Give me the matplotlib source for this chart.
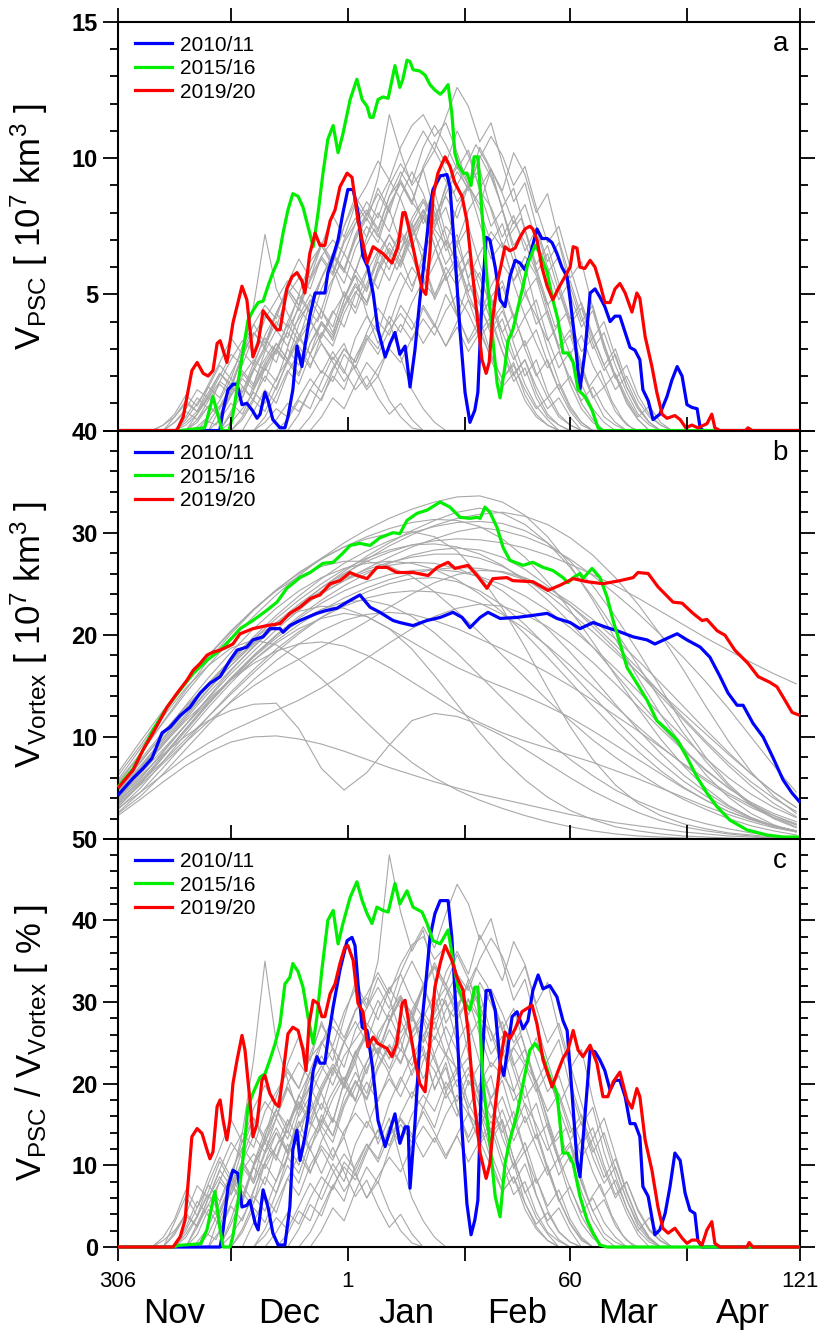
import numpy as np
import matplotlib
matplotlib.use("Agg")
import matplotlib.pyplot as plt
from matplotlib.lines import Line2D
import matplotlib.transforms as mtransforms

plt.rcParams["font.family"] = ["Liberation Sans", "DejaVu Sans"]
plt.rcParams["mathtext.fontset"] = "custom"
plt.rcParams["mathtext.rm"] = "Liberation Sans"
plt.rcParams["mathtext.it"] = "Liberation Sans:italic"
plt.rcParams["mathtext.bf"] = "Liberation Sans:bold"

# x axis is days since 1 Nov (0) up to 1 May (181)
tick_days = [0, 61, 120, 181]
tick_labels = ["306", "1", "60", "121"]
month_starts = [30, 92, 151]
months = ["Nov", "Dec", "Jan", "Feb", "Mar", "Apr"]
month_mid = [15, 45.5, 76.5, 106, 135.5, 166]

seasons = ["2010/11", "2015/16", "2019/20"]
colors = ["#0000ff", "#00ee00", "#ff0000"]

# ---- PSC volume (10^7 km^3), (day, value) pairs ----
psc_2010 = [(0, 0), (27, 0), (27.9, 0.75), (29.2, 1.5), (30.5, 1.7), (31.6, 1.7), (32.9, 0.95), (34.2, 1.0),
            (35.6, 0.75), (36.9, 0.45), (37.7, 0.6), (39, 1.4), (39.8, 1.1), (41.1, 0.4), (43, 0.1), (44.3, 0.1),
            (45.1, 0.5), (46.4, 1.5), (47.5, 3.1), (48.8, 2.35), (49.6, 3.1), (50.9, 4.2), (52.3, 5.05),
            (53.6, 5.05), (54.9, 5.05), (55.7, 5.8), (57.1, 6.4), (58.4, 7.0), (59.7, 8.0), (61, 8.85),
            (62.4, 8.85), (63.7, 8.0), (65, 6.4), (66.3, 6.0), (67.7, 5.05), (69, 3.7), (70.9, 2.7), (72.2, 3.2),
            (73.5, 3.6), (74.8, 2.8), (76.2, 3.1), (77.5, 1.6), (78.8, 2.95), (80.1, 4.8), (81.5, 6.5),
            (82.8, 8.2), (83.6, 8.85), (85.5, 9.35), (87.3, 9.4), (88.1, 8.95), (89.4, 6.5), (90.8, 3.6),
            (92.1, 1.4), (93.4, 0.3), (94.7, 0.75), (95.5, 1.4), (96.6, 4.8), (97.7, 7.1), (98.7, 7.0),
            (100.1, 6.0), (101.4, 4.8), (102.7, 4.55), (104, 5.65), (105.4, 6.25), (106.7, 6.15), (108, 5.9),
            (109.3, 6.4), (111.2, 7.4), (112.5, 7.05), (113.9, 7.05), (115.2, 6.9), (116.5, 6.5), (117.8, 6.0),
            (119.2, 5.65), (120, 4.8), (121.3, 3.3), (122.6, 1.5), (123.9, 2.85), (125.3, 5.05), (126.6, 5.2),
            (127.9, 4.9), (129.2, 4.55), (130.6, 4.0), (131.9, 4.2), (133.2, 4.2), (134.6, 3.6), (135.9, 3.05),
            (137.2, 2.95), (138.5, 2.6), (139.3, 1.5), (140.7, 1.1), (142, 0.4), (143.8, 0.6), (145.7, 1.25),
            (147, 1.85), (148.4, 2.35), (149.7, 2.0), (151, 0.95), (152.3, 0.85), (153.7, 0.8), (154.5, 0.1),
            (155.3, 0), (181, 0)]
psc_2015 = [(0, 0), (16.5, 0), (23, 0.1), (25.2, 1.25), (27.6, 0), (29.5, 0), (30.5, 0.6), (31.8, 1.7),
            (33.2, 2.95), (34.5, 4.05), (35.8, 4.4), (37.2, 4.7), (38.5, 4.75), (39.8, 5.3), (41.1, 5.8),
            (42.5, 6.25), (43.8, 7.25), (45.1, 8.1), (46.4, 8.7), (47.8, 8.6), (49.1, 8.2), (50.4, 7.5),
            (51.8, 6.75), (53.1, 8.0), (54.4, 9.45), (55.7, 10.7), (57.1, 11.2), (58.4, 10.2), (59.7, 10.9),
            (61.6, 12.15), (63.4, 12.9), (64.8, 12.15), (66.1, 11.9), (66.9, 11.5), (67.7, 11.5), (69, 12.15),
            (70.3, 12.25), (71.7, 12.2), (73.5, 13.4), (74.8, 12.6), (75.6, 12.9), (76.7, 13.6), (77.5, 13.55),
            (78.3, 13.25), (80.1, 13.2), (81.5, 13.05), (82.8, 12.7), (84.1, 12.5), (85.5, 12.35), (86.3, 12.45),
            (87.6, 12.7), (88.6, 11.65), (89.4, 10.2), (90.2, 9.8), (91.6, 9.45), (92.6, 9.45), (93.7, 9.0),
            (94.5, 10.05), (95.5, 10.05), (96.6, 8.0), (97.9, 5.65), (99.3, 3.6), (100.6, 1.75), (101.4, 1.2),
            (102.7, 2.35), (103.5, 3.3), (104.8, 3.7), (106.2, 4.55), (107.5, 5.3), (108.8, 6.15), (110.7, 6.8),
            (112, 6.5), (113.9, 5.8), (115.4, 4.8), (116.8, 4.05), (118.1, 2.85), (119.4, 2.85), (120.8, 2.5),
            (122.1, 1.5), (123.9, 1.25), (125.8, 0.75), (127.4, 0.1), (128.7, 0), (181, 0)]
psc_2019 = [(0, 0), (15.6, 0), (17.3, 0.5), (19.6, 2.2), (21, 2.5), (22.6, 2.1), (23.9, 2.0), (25.2, 2.2),
            (26.3, 3.2), (27.1, 3.3), (28.9, 2.5), (30.5, 3.95), (32.9, 5.3), (34.2, 4.8), (35.8, 2.7),
            (37.2, 3.2), (38.5, 4.4), (40.3, 4.06), (42.2, 3.7), (43, 3.7), (44.8, 5.2), (46.2, 5.65),
            (47.5, 5.8), (48.8, 5.5), (49.6, 5.05), (50.9, 6.5), (52.3, 7.25), (53.6, 6.8), (54.9, 6.8),
            (56.3, 7.7), (57.6, 8.1), (58.9, 8.95), (60.8, 9.45), (62.1, 9.3), (63.7, 7.7), (66.1, 6.15),
            (67.7, 6.75), (70.3, 6.5), (72.7, 6.15), (74.3, 6.75), (75.6, 8.0), (76.2, 8.0), (77.5, 7.25),
            (79.4, 6.0), (80.7, 5.2), (81.7, 5.0), (82.8, 6.6), (83.6, 8.6), (84.9, 9.45), (86.8, 10.05),
            (88.1, 9.7), (89.4, 9.1), (91.3, 8.6), (92.6, 7.7), (93.9, 6.0), (95.3, 4.2), (96.6, 2.6),
            (97.7, 2.1), (98.5, 2.5), (99.5, 4.2), (100.8, 5.5), (102.7, 6.75), (104, 6.6), (105.4, 6.7),
            (106.7, 7.1), (108, 7.4), (109.3, 7.5), (110.1, 7.4), (111.2, 7.0), (112.5, 6.0), (113.9, 5.3),
            (115.4, 4.8), (116.8, 5.2), (118.6, 5.65), (120, 6.0), (120.8, 6.75), (121.8, 6.7), (122.6, 6.0),
            (123.9, 5.95), (125.3, 6.25), (126.6, 6.0), (127.9, 5.4), (129.2, 4.7), (130.6, 4.7), (131.9, 5.2),
            (133.2, 5.4), (134.6, 5.05), (136.4, 4.35), (137.7, 5.05), (138.5, 4.85), (139.9, 3.45),
            (141.7, 2.35), (143, 1.4), (144.4, 0.6), (145.7, 0.45), (147.8, 0.55), (149.2, 0.4), (150.7, 0.1),
            (152.3, 0.2), (153.9, 0.1), (156.3, 0.25), (157.6, 0.6), (158.4, 0.1), (159.8, 0), (166.5, 0),
            (167.2, 0.1), (168.3, 0), (181, 0)]

# ---- vortex volume (10^7 km^3) ----
vortex_2010 = [(0, 4.3), (4, 5.95), (6.6, 6.9), (9, 7.9), (11.7, 10.4), (13.8, 10.95), (16.5, 12.1),
               (19.1, 12.9), (21.8, 14.3), (24.4, 15.25), (27.1, 15.9), (29.7, 17.5), (31.6, 18.5), (34.2, 18.8),
               (35.8, 19.5), (38.5, 19.8), (40.3, 20.6), (43, 20.6), (43.8, 20.25), (45.6, 20.9), (48.3, 21.4),
               (50.2, 21.7), (52.8, 22.1), (55.5, 22.4), (58.1, 22.6), (60.8, 23.2), (64.2, 23.9), (66.9, 22.7),
               (69.5, 22.2), (73, 21.4), (74.8, 21.2), (78.3, 20.9), (82, 21.4), (85.5, 21.7), (88.9, 22.2),
               (91.3, 21.7), (93.4, 20.7), (96.1, 21.7), (98.2, 22.2), (101.4, 21.6), (105.9, 21.7), (110.1, 21.9),
               (113.9, 22.1), (116.5, 21.6), (120, 21.2), (122.6, 20.6), (126.1, 21.2), (129.8, 20.7),
               (132.4, 20.4), (136.7, 19.8), (140.4, 19.5), (142.5, 19.1), (145.7, 19.65), (148.4, 20.1),
               (151, 19.5), (154.5, 18.8), (157.1, 17.8), (159.8, 15.9), (161.9, 14.3), (164.3, 13.1),
               (165.9, 13.1), (168.5, 11.35), (171.2, 10.0), (173.8, 8.0), (176.5, 5.8), (178.9, 4.5), (181, 3.6)]
vortex_2015 = [(0, 5.1), (4, 6.9), (6.6, 8.7), (9.3, 10.7), (13, 12.9), (16.5, 14.6), (19.9, 16.2), (23.6, 17.5),
               (27.1, 18.5), (30.5, 19.8), (32.4, 20.6), (35.8, 21.4), (39.5, 22.4), (42.2, 23.2), (44.8, 24.55),
               (48.3, 25.6), (51, 26.1), (54.4, 27.0), (57.1, 27.1), (59.7, 28.0), (61.6, 28.75), (64.2, 28.95),
               (66.9, 28.75), (69.5, 29.5), (73, 30.0), (74.8, 29.9), (76.7, 31.2), (79.4, 31.9), (82, 32.2),
               (85.5, 33.0), (88.1, 32.5), (90.8, 31.5), (93.4, 31.4), (95.3, 31.5), (96.1, 31.4), (97.4, 32.5),
               (98.7, 32.0), (100.6, 30.5), (102.2, 28.55), (104, 27.3), (107.5, 26.8), (110.1, 27.1),
               (112.8, 26.6), (115.4, 26.3), (118.1, 25.6), (119.4, 25.1), (120.8, 25.6), (122.6, 26.0),
               (123.4, 25.5), (125.8, 26.5), (127.9, 25.6), (129.8, 23.7), (131.4, 21.4), (133.2, 19.2),
               (135.1, 16.8), (137.7, 15.25), (140.4, 13.6), (143, 11.6), (145.7, 10.7), (148.4, 9.7), (151, 8.0),
               (153.7, 6.05), (156.3, 4.5), (159, 3.15), (162.4, 1.85), (166.9, 0.9), (172.2, 0.4), (176.5, 0.2),
               (181, 0.2)]
vortex_2019 = [(0, 5.0), (4, 6.75), (6.6, 8.7), (9.3, 10.4), (11.1, 11.6), (13, 12.9), (15.7, 14.3), (18.3, 15.55),
               (19.9, 16.5), (21.8, 17.2), (23.6, 18.0), (25.2, 18.3), (27.1, 18.5), (28.9, 18.8), (30.5, 19.1),
               (32.4, 20.1), (35.8, 20.6), (39.5, 20.9), (43, 21.1), (45.6, 22.1), (48.3, 22.7), (51, 23.55),
               (53.6, 23.9), (56.3, 25.0), (58.9, 25.3), (61.6, 26.1), (63.4, 25.8), (66.1, 25.5), (68.7, 26.6),
               (71.4, 26.6), (74, 26.1), (78.3, 26.1), (82.3, 25.8), (84.7, 26.6), (87.6, 27.1), (89.4, 26.5),
               (92.9, 26.8), (95.3, 25.8), (97.9, 24.55), (99.5, 25.5), (103.2, 25.6), (104.8, 25.3),
               (110.1, 25.2), (114.1, 24.35), (117.3, 24.85), (120.8, 25.5), (124.5, 25.2), (128.7, 25.0),
               (133.2, 25.3), (136.7, 25.6), (138, 26.1), (140.7, 26.0), (143.3, 24.7), (147.3, 23.2),
               (149.7, 23.1), (152.6, 22.1), (155, 21.4), (156.3, 21.5), (159, 20.4), (161.1, 19.95),
               (163.7, 18.5), (167.2, 17.2), (169.9, 15.9), (173, 15.35), (174.9, 14.9), (177, 13.6),
               (178.9, 12.4), (181, 12.1)]

# ---- PSC fraction of vortex (%) ----
ratio_2010 = [(0, 0), (27.1, 0), (27.9, 2.1), (29.2, 7.4), (30.5, 9.4), (31.8, 9.0), (32.9, 4.9), (34.2, 5.1),
              (35, 5.7), (36.4, 2.9), (37.2, 2.1), (38.5, 7.0), (39.8, 4.9), (41.1, 1.7), (42.5, 0.25), (44.3, 0.25),
              (45.6, 4.9), (46.4, 11.9), (47.5, 14.3), (48.3, 10.6), (49.6, 13.5), (50.4, 15.9), (51.8, 21.6),
              (52.8, 23.3), (53.6, 22.5), (54.9, 22.5), (55.7, 25.3), (57.1, 29.4), (58.9, 33.9), (60.8, 37.5),
              (62.1, 37.9), (62.9, 36.9), (63.7, 32.2), (64.8, 26.9), (66.1, 26.5), (67.4, 22.5), (68.2, 19.2),
              (69, 15.5), (70.9, 12.3), (72.2, 14.3), (73.5, 16.3), (74.8, 12.7), (76.2, 14.7), (77, 14.7),
              (77.5, 7.2), (78.8, 15.1), (80.1, 24.9), (81.5, 31.4), (82.8, 37.9), (84.1, 40.8), (85.5, 42.4),
              (87.6, 42.4), (88.6, 37.9), (90, 26.5), (91.3, 14.3), (92.6, 5.3), (93.7, 1.5), (94.7, 3.3),
              (95.5, 5.7), (96.6, 22.5), (97.7, 31.4), (98.7, 31.4), (100.1, 29.0), (101.4, 22.5), (102.4, 21.0),
              (103.5, 24.5), (104.6, 28.2), (105.9, 28.8), (107.5, 26.7), (108.8, 27.7), (110.1, 31.4),
              (111.5, 33.3), (112.8, 31.6), (114.6, 32.0), (116.5, 30.6), (118.1, 27.7), (119.2, 26.5),
              (120.5, 18.8), (121.8, 10.6), (122.6, 8.6), (123.9, 15.9), (125.3, 24.1), (126.6, 23.9),
              (127.9, 22.9), (129.2, 21.6), (130.6, 19.2), (131.9, 20.4), (133.2, 20.4), (134.6, 18.4),
              (135.9, 15.1), (137.2, 15.1), (138.5, 13.5), (139.3, 7.4), (140.7, 6.2), (142.5, 1.5), (143.8, 2.1),
              (145.2, 4.1), (146.5, 7.4), (147.8, 11.5), (149.2, 10.6), (150.5, 6.6), (151.8, 4.5), (153.1, 4.1),
              (153.9, 0.8), (155, 0), (181, 0)]
ratio_2015 = [(0, 0), (14.6, 0), (16, 0.2), (22, 0.4), (23.6, 2.1), (25.7, 6.8), (27.1, 2.1), (27.9, 0),
              (29.7, 0), (30.5, 1.3), (31.8, 5.3), (33.2, 11.0), (34.5, 17.2), (35.8, 18.8), (37.7, 20.8),
              (39, 21.2), (40.3, 22.9), (41.7, 24.9), (43, 27.3), (44.3, 32.2), (45.6, 33.0), (46.4, 34.7),
              (47.8, 33.7), (49.1, 31.8), (50.4, 28.2), (51.8, 24.9), (52.8, 28.2), (54.1, 33.9), (55.7, 40.0),
              (57.1, 41.2), (58.4, 37.1), (59.7, 39.6), (61.6, 42.8), (63.4, 44.7), (64.8, 42.4), (66.1, 40.8),
              (67.4, 39.6), (68.7, 41.6), (70.3, 41.2), (71.7, 41.0), (73.5, 44.5), (74.8, 42.0), (76.7, 43.6),
              (78.3, 41.6), (80.7, 41.0), (82, 39.6), (83.6, 37.5), (85.5, 37.1), (87.6, 38.8), (88.9, 35.1),
              (90.2, 31.8), (91.6, 30.2), (93.4, 29.0), (94.7, 31.8), (95.5, 31.8), (96.9, 20.0), (98.7, 12.7),
              (100.1, 6.2), (101.4, 3.7), (102.7, 10.2), (104, 13.1), (105.9, 16.3), (107.5, 20.0), (109.3, 24.1),
              (110.7, 24.9), (112.5, 23.7), (114.6, 20.8), (116.5, 18.8), (118.1, 11.5), (119.4, 11.5),
              (120.8, 10.2), (122.6, 6.2), (124.5, 3.3), (126.1, 1.7), (127.9, 0.25), (129.8, 0), (181, 0)]
ratio_2019 = [(0, 0), (14.6, 0), (16.5, 1.25), (17.8, 3.3), (19.6, 13.5), (21, 14.5), (22.3, 13.9), (23.6, 11.9),
              (24.4, 10.8), (25.2, 11.65), (26.3, 17.2), (27.1, 18.0), (27.9, 15.5), (28.9, 13.1), (29.7, 15.5),
              (30.5, 20.0), (31.6, 22.9), (32.9, 25.9), (33.7, 24.1), (35, 18.0), (35.8, 13.5), (36.9, 15.1),
              (38.2, 20.4), (39, 21.0), (40.3, 18.8), (41.7, 17.6), (42.7, 17.2), (43.8, 21.2), (45.1, 26.1),
              (46.4, 26.9), (47.8, 26.5), (49.1, 24.1), (49.9, 21.6), (50.7, 27.3), (51.8, 30.2), (53.1, 29.8),
              (54.1, 28.2), (54.9, 28.2), (56.3, 31.0), (57.6, 32.2), (58.9, 34.7), (60.2, 36.7), (61, 36.9),
              (62.4, 35.1), (63.7, 29.8), (65, 28.8), (66.3, 24.5), (67.7, 25.7), (69, 24.9), (71.4, 24.3),
              (72.7, 23.3), (74, 24.9), (75.4, 29.8), (76.2, 30.2), (77.5, 26.5), (78.8, 22.9), (80.1, 20.0),
              (81.5, 19.0), (82.8, 25.3), (84.1, 31.8), (85.5, 34.7), (86.8, 36.9), (88.6, 35.1), (90, 33.0),
              (91.6, 31.4), (92.9, 26.5), (94.2, 19.2), (96.1, 11.5), (97.7, 8.4), (98.7, 10.2), (100.1, 17.2),
              (101.4, 22.5), (102.7, 26.3), (104, 25.5), (105.4, 26.7), (107.2, 28.8), (109.9, 29.6),
              (111.2, 27.3), (112.8, 22.9), (115.2, 19.6), (116.5, 21.2), (118.1, 23.1), (119.4, 24.1),
              (120.8, 26.5), (122.1, 24.1), (123.4, 23.3), (125.3, 24.7), (127.1, 22.5), (128.7, 18.4),
              (130, 18.4), (131.4, 20.2), (133.2, 21.4), (135.1, 18.0), (136.4, 17.0), (137.7, 19.4),
              (138.5, 18.4), (139.9, 13.1), (141.7, 9.4), (143.3, 4.9), (144.6, 2.3), (146, 1.7), (147.8, 2.3),
              (149.7, 1.1), (151, 0.45), (152.3, 0.85), (153.7, 0.85), (155, 0.25), (156.3, 2.1), (157.6, 3.1),
              (158.4, 0.45), (159.8, 0), (166.9, 0), (167.5, 0.55), (168.5, 0), (181, 0)]

# ---- other winters: PSC volume, (first day, values every 3 days) ----
gray_psc = [
    (12, [0, 0.3, 0.8, 1.5, 1.2, 2.0, 2.8, 2.4, 3.5, 4.2, 3.8, 5.0, 5.6, 5.2, 6.4, 7.0, 6.5, 7.6, 8.1, 7.4, 8.6, 9.2, 8.4, 7.8, 8.8, 7.2, 6.0, 6.6, 5.2, 4.0, 4.6, 3.2, 2.0, 2.6, 1.4, 0.6, 0.2, 0]),
    (15, [0, 0.5, 1.2, 0.8, 1.8, 2.6, 3.3, 2.9, 4.1, 4.8, 5.5, 5.0, 6.2, 6.8, 7.9, 7.1, 8.3, 9.0, 9.9, 9.2, 10.4, 11.2, 11.6, 10.8, 11.3, 10.2, 9.0, 9.6, 8.1, 6.8, 5.5, 6.1, 4.4, 3.0, 1.8, 0.9, 0.3, 0]),
    (20, [0, 0.4, 0.2, 1.0, 1.8, 1.3, 2.4, 3.1, 2.6, 3.9, 4.5, 4.0, 5.3, 6.1, 5.5, 6.6, 7.4, 6.8, 5.9, 6.9, 7.7, 8.5, 9.4, 8.7, 9.6, 10.5, 9.8, 8.6, 7.2, 7.8, 6.4, 5.1, 3.8, 4.3, 2.9, 1.6, 2.2, 1.1, 0.4, 0]),
    (9, [0, 0.2, 0.6, 1.3, 0.9, 1.7, 2.5, 3.4, 2.8, 3.9, 4.6, 4.1, 5.4, 6.3, 5.6, 6.8, 6.0, 4.9, 5.7, 4.3, 3.2, 4.0, 2.7, 1.5, 0.8, 0.3, 0]),
    (27, [0, 0.6, 1.4, 2.3, 1.8, 3.0, 3.9, 3.3, 4.7, 5.6, 6.4, 5.8, 7.1, 7.9, 8.7, 8.0, 9.3, 10.2, 11.0, 10.3, 11.5, 12.6, 11.9, 10.6, 11.3, 9.8, 8.4, 9.1, 7.5, 6.2, 6.9, 5.3, 4.0, 4.6, 3.1, 2.0, 1.1, 0.4, 0]),
    (18, [0, 0.3, 0.9, 0.5, 1.4, 2.2, 1.7, 2.9, 3.7, 3.1, 4.2, 5.0, 4.4, 3.6, 4.8, 5.9, 5.2, 6.5, 7.2, 6.4, 5.3, 6.2, 4.8, 5.7, 4.2, 3.3, 4.1, 2.8, 1.9, 2.5, 1.3, 0.6, 0.2, 0]),
    (30, [0, 0.4, 1.1, 0.7, 1.6, 2.5, 2.0, 3.2, 4.0, 3.5, 4.8, 5.7, 5.1, 6.3, 7.2, 6.6, 7.8, 8.5, 7.7, 8.9, 9.7, 8.8, 10.1, 9.3, 8.2, 8.9, 7.4, 6.1, 6.8, 5.4, 4.1, 4.7, 3.5, 2.4, 3.0, 1.8, 0.9, 0.3, 0]),
    (24, [0, 0.8, 1.6, 1.2, 2.3, 3.1, 4.0, 3.4, 4.6, 5.5, 6.3, 5.7, 6.9, 7.6, 8.4, 7.8, 9.0, 9.8, 9.1, 10.4, 11.2, 10.5, 9.6, 10.3, 8.8, 7.5, 8.1, 6.6, 5.2, 3.9, 4.4, 3.0, 1.7, 0.8, 0.3, 0]),
    (36, [0, 0.5, 1.3, 2.2, 1.7, 2.8, 3.6, 3.1, 4.3, 5.1, 4.6, 5.8, 6.6, 6.0, 7.1, 7.8, 7.2, 6.1, 6.8, 5.6, 6.5, 7.3, 6.7, 7.7, 6.9, 5.8, 6.5, 5.1, 3.9, 4.5, 3.2, 2.2, 2.8, 1.6, 0.8, 0.3, 0]),
    (12, [0, 0.3, 0.7, 0.4, 1.1, 1.7, 1.3, 2.0, 2.6, 2.2, 3.0, 3.6, 3.1, 2.4, 3.2, 2.5, 1.8, 2.4, 1.6, 2.3, 3.0, 2.5, 3.4, 4.1, 3.5, 4.4, 5.0, 4.3, 3.4, 4.0, 2.9, 2.0, 2.6, 1.6, 0.8, 1.2, 0.5, 0]),
    (45, [0, 0.6, 1.5, 1.1, 2.2, 3.0, 2.5, 3.6, 4.5, 3.9, 5.1, 6.0, 5.4, 6.6, 7.5, 6.9, 8.1, 8.8, 8.2, 7.1, 7.9, 6.6, 7.4, 6.0, 4.8, 5.5, 4.2, 3.0, 3.6, 2.4, 1.4, 0.6, 0.2, 0]),
    (21, [0, 0.5, 1.1, 1.9, 1.4, 2.5, 3.4, 2.8, 4.0, 4.9, 4.3, 5.6, 6.5, 5.9, 7.2, 8.0, 7.3, 8.6, 9.5, 8.8, 7.6, 8.3, 6.9, 5.6, 6.2, 4.7, 3.5, 4.1, 2.8, 1.7, 0.9, 0.4, 0]),
    (33, [0, 0.7, 1.5, 1.0, 2.1, 2.9, 2.3, 3.5, 4.4, 3.8, 5.0, 5.9, 5.2, 6.4, 7.3, 6.7, 7.9, 6.8, 5.7, 6.4, 5.0, 4.1, 4.9, 3.6, 2.6, 3.3, 2.1, 1.2, 1.7, 0.8, 0.3, 0]),
    (15, [0, 0.4, 1.0, 1.6, 1.2, 2.1, 2.9, 2.4, 3.5, 4.3, 3.8, 5.0, 4.4, 5.6, 6.5, 5.9, 7.0, 7.8, 7.1, 8.3, 9.1, 8.4, 9.6, 10.3, 9.5, 8.4, 9.0, 7.6, 6.3, 6.9, 5.4, 4.2, 4.8, 3.4, 2.3, 2.9, 1.7, 0.8, 0.3, 0]),
    (48, [0, 0.5, 1.2, 2.0, 1.5, 2.7, 3.5, 3.0, 4.2, 3.6, 4.7, 5.5, 4.9, 6.0, 5.3, 6.3, 5.6, 4.6, 5.3, 4.1, 5.0, 4.2, 3.3, 3.9, 2.8, 3.5, 2.4, 1.6, 2.1, 1.2, 0.5, 0.9, 0.3, 0]),
    (27, [0, 0.3, 0.8, 1.4, 1.0, 1.9, 2.6, 2.1, 3.2, 3.9, 3.4, 4.5, 5.3, 4.7, 5.9, 6.7, 6.1, 7.3, 8.1, 7.4, 8.7, 9.5, 8.9, 10.0, 10.8, 10.1, 9.0, 9.7, 8.2, 6.9, 7.5, 6.0, 4.6, 3.4, 4.0, 2.7, 1.6, 0.8, 0.3, 0]),
    (39, [0, 0.4, 1.0, 0.7, 1.5, 2.2, 1.8, 2.8, 2.3, 3.3, 4.0, 3.5, 4.6, 4.0, 3.2, 3.9, 3.1, 4.0, 4.8, 4.2, 5.3, 6.1, 5.5, 6.4, 5.7, 4.6, 5.2, 4.0, 2.9, 3.4, 2.4, 1.5, 2.0, 1.1, 0.5, 0.2, 0]),
    (18, [0, 0.6, 1.3, 2.1, 1.6, 2.7, 3.6, 3.0, 4.3, 5.2, 4.6, 5.9, 6.9, 6.2, 7.5, 8.4, 7.7, 8.9, 8.1, 6.9, 7.6, 6.2, 5.0, 5.7, 4.3, 3.2, 3.8, 2.6, 1.6, 2.1, 1.1, 0.5, 0.2, 0]),
    (15, [0, 0.2, 0.6, 1.2, 1.8, 1.5, 2.8, 4.6, 7.2, 5.2, 4.3, 3.5, 4.1, 3.2, 2.6, 3.2, 2.2, 1.5, 2.0, 1.1, 0.5, 0.1, 0]),
    (9, [0, 0.2, 0.5, 1.0, 0.7, 1.4, 2.1, 1.7, 2.8, 3.6, 3.1, 4.3, 5.2, 4.6, 5.9, 6.8, 6.1, 7.5, 8.6, 7.9, 9.3, 11.6, 10.2, 9.0, 9.6, 8.0, 6.6, 7.2, 5.5, 4.2, 4.8, 3.3, 2.1, 2.6, 1.4, 0.6, 0.2, 0]),
    (24, [0, 0.4, 1.0, 0.6, 1.5, 2.3, 1.8, 3.0, 2.4, 3.6, 4.4, 3.8, 5.1, 4.5, 5.8, 6.6, 5.9, 7.2, 6.4, 5.3, 6.1, 7.0, 6.2, 5.1, 5.8, 4.5, 3.6, 4.3, 3.0, 2.0, 2.6, 1.5, 0.7, 0.2, 0]),
    (30, [0, 0.5, 1.2, 2.0, 1.5, 2.6, 3.4, 2.8, 4.0, 3.3, 4.6, 5.4, 4.7, 6.0, 6.9, 6.2, 7.6, 8.4, 7.6, 9.0, 9.8, 9.0, 10.4, 9.6, 8.8, 10.2, 9.4, 8.0, 8.7, 7.0, 5.6, 6.2, 4.5, 3.2, 2.0, 1.0, 0.4, 0]),
    (15, [0, 0.3, 0.7, 1.2, 0.8, 1.5, 2.1, 1.6, 2.5, 3.2, 2.6, 3.5, 2.8, 2.1, 2.9, 2.2, 1.5, 2.0, 1.2, 0.6, 1.0, 0.4, 0]),
    (42, [0, 0.4, 1.1, 0.8, 1.8, 2.7, 2.1, 3.4, 4.2, 3.6, 4.9, 5.8, 5.1, 6.5, 7.4, 6.8, 8.2, 9.0, 8.3, 9.6, 8.7, 7.6, 8.3, 7.0, 5.8, 6.4, 5.0, 3.8, 4.4, 3.0, 1.9, 2.4, 1.3, 0.6, 0.2, 0]),
    (12, [0, 0.5, 1.1, 0.7, 1.6, 2.4, 1.9, 3.1, 3.9, 3.2, 4.3, 5.1, 4.4, 5.6, 6.4, 5.8, 7.0, 7.8, 7.1, 8.4, 9.2, 8.5, 7.4, 8.1, 6.8, 5.5, 6.2, 4.8, 3.6, 4.2, 2.9, 1.8, 2.3, 1.2, 0.5, 0.2, 0]),
    (21, [0, 0.3, 0.9, 1.6, 1.2, 2.2, 3.0, 2.5, 3.7, 4.5, 3.9, 5.2, 6.1, 5.4, 6.7, 7.5, 6.9, 8.2, 9.1, 8.3, 9.7, 10.6, 9.8, 11.0, 10.1, 8.9, 9.6, 8.1, 6.8, 7.4, 5.9, 4.4, 3.1, 3.7, 2.3, 1.3, 0.5, 0.2, 0]),
    (36, [0, 0.3, 0.8, 0.5, 1.2, 1.9, 1.4, 2.3, 3.0, 2.5, 3.4, 2.8, 3.7, 4.3, 3.7, 4.6, 3.9, 3.1, 3.8, 2.9, 3.6, 2.7, 1.9, 2.4, 1.5, 0.8, 1.2, 0.5, 0.2, 0]),
    (27, [0, 0.7, 1.6, 1.1, 2.3, 3.2, 2.6, 3.9, 4.8, 4.1, 5.5, 6.5, 5.8, 7.1, 8.0, 7.3, 8.6, 9.5, 8.7, 7.5, 8.2, 6.8, 7.5, 6.1, 4.9, 5.5, 4.2, 3.1, 3.7, 2.5, 1.5, 2.0, 1.0, 0.4, 0]),
    (18, [0, 0.4, 0.9, 0.6, 1.3, 1.9, 1.5, 2.4, 3.0, 2.5, 3.3, 4.0, 3.4, 4.3, 5.0, 4.3, 5.4, 6.2, 5.5, 6.6, 7.4, 6.6, 7.9, 8.6, 7.8, 9.0, 8.1, 6.9, 7.6, 6.2, 5.0, 5.6, 4.2, 3.0, 3.5, 2.2, 1.2, 1.6, 0.7, 0.2, 0]),
    (51, [0, 0.5, 1.2, 0.8, 1.7, 2.5, 2.0, 3.1, 3.9, 3.3, 4.5, 3.8, 5.0, 4.2, 5.4, 4.6, 3.7, 4.4, 3.4, 4.2, 3.2, 2.3, 2.9, 1.9, 1.1, 1.6, 0.8, 0.3, 0]),
]

# ---- other winters: vortex volume, values every 6 days from day 0 ----
gray_vortex = [
    [5.2, 7.8, 10.5, 13.0, 15.2, 17.3, 19.2, 21.0, 22.6, 24.0, 25.3, 26.5, 27.6, 28.6, 29.4, 30.1, 30.5, 30.2, 29.6, 28.7, 27.4, 25.8, 24.0, 22.1, 20.0, 17.8, 15.4, 12.8, 10.0, 7.2, 4.6],
    [4.3, 6.6, 9.2, 11.8, 14.3, 16.6, 18.8, 20.9, 22.8, 24.6, 26.2, 27.7, 29.0, 30.2, 31.2, 32.0, 32.4, 31.9, 30.8, 29.0, 26.6, 23.7, 20.4, 17.0, 13.6, 10.4, 7.6, 5.2, 3.3, 2.0, 1.1],
    [3.1, 5.4, 8.0, 10.6, 13.2, 15.6, 17.8, 19.7, 21.3, 22.5, 23.2, 23.4, 22.9, 21.8, 20.2, 18.2, 16.0, 13.8, 11.6, 9.6, 7.8, 6.2, 4.8, 3.7, 2.8, 2.1, 1.5, 1.0, 0.6, 0.3, 0.1],
    [4.0, 6.2, 8.3, 10.1, 11.6, 12.6, 13.2, 13.3, 10.8, 6.9, 4.8, 6.5, 9.2, 11.6, 12.3, 12.0, 11.2, 10.1, 8.8, 7.4, 6.0, 4.7, 3.6, 2.6, 1.8, 1.2, 0.8, 0.5, 0.3, 0.1, 0.0],
    [5.8, 8.9, 12.0, 14.8, 17.0, 18.7, 19.5, 19.0, 17.6, 15.7, 13.6, 11.4, 9.3, 7.5, 6.0, 4.8, 3.8, 3.0, 2.3, 1.7, 1.2, 0.8, 0.5, 0.3, 0.2, 0.1, 0, 0, 0, 0, 0],
    [3.6, 5.9, 8.6, 11.2, 13.8, 16.2, 18.4, 20.5, 22.4, 24.2, 25.9, 27.4, 28.7, 29.8, 30.7, 31.4, 31.8, 32.0, 31.6, 30.8, 29.5, 27.8, 25.6, 23.0, 20.0, 16.6, 13.0, 9.6, 6.6, 4.2, 2.5],
    [4.8, 7.2, 9.8, 12.5, 15.0, 17.4, 19.6, 21.6, 23.4, 25.0, 26.4, 27.5, 28.3, 28.8, 28.9, 28.6, 27.9, 26.8, 25.3, 23.4, 21.2, 18.8, 16.2, 13.6, 11.1, 8.8, 6.8, 5.0, 3.6, 2.5, 1.7],
    [2.6, 4.6, 7.0, 9.5, 12.0, 14.4, 16.6, 18.6, 20.3, 21.7, 22.8, 23.6, 24.1, 24.3, 24.2, 23.8, 23.1, 22.0, 20.6, 18.9, 17.0, 15.0, 13.0, 11.0, 9.1, 7.3, 5.7, 4.3, 3.1, 2.1, 1.4],
    [4.5, 6.8, 9.4, 12.0, 14.6, 17.0, 19.2, 21.2, 23.0, 24.6, 26.0, 27.2, 28.1, 28.8, 29.2, 29.4, 29.3, 29.0, 28.5, 27.8, 26.9, 25.9, 24.8, 23.6, 22.3, 21.0, 19.7, 18.5, 17.3, 16.2, 15.2],
    [5.6, 8.4, 11.4, 14.3, 17.0, 19.5, 21.8, 23.9, 25.8, 27.5, 29.0, 30.3, 31.4, 32.3, 33.0, 33.5, 33.6, 33.0, 31.7, 29.6, 26.8, 23.4, 19.6, 15.8, 12.2, 9.0, 6.3, 4.1, 2.5, 1.4, 0.7],
    [4.1, 6.4, 8.8, 11.2, 13.5, 15.6, 17.5, 19.2, 20.6, 21.6, 22.1, 21.8, 20.6, 18.6, 16.0, 13.2, 10.4, 7.9, 5.8, 4.1, 2.8, 1.9, 1.2, 0.8, 0.5, 0.3, 0.2, 0.1, 0, 0, 0],
    [3.3, 5.5, 8.1, 10.8, 13.4, 15.8, 18.0, 20.0, 21.8, 23.4, 24.8, 26.0, 27.0, 27.8, 28.3, 28.5, 28.3, 27.6, 26.4, 24.8, 22.9, 20.8, 18.6, 16.3, 14.0, 11.7, 9.4, 7.2, 5.2, 3.5, 2.2],
    [2.3, 3.9, 5.6, 7.2, 8.5, 9.5, 10.0, 10.1, 9.8, 9.3, 8.6, 7.8, 7.0, 6.3, 5.6, 5.0, 4.4, 3.9, 3.4, 2.9, 2.4, 2.0, 1.6, 1.3, 1.0, 0.7, 0.5, 0.3, 0.2, 0.1, 0],
    [3.0, 4.6, 6.3, 8.0, 9.4, 10.6, 11.6, 12.6, 13.6, 14.8, 16.2, 17.7, 19.2, 20.6, 21.8, 22.6, 23.0, 22.8, 22.0, 20.8, 19.2, 17.3, 15.2, 13.0, 10.8, 8.7, 6.7, 5.0, 3.5, 2.3, 1.4],
    [4.9, 7.5, 10.3, 13.1, 15.8, 18.3, 20.6, 22.6, 24.3, 25.6, 26.5, 27.0, 27.2, 27.0, 26.4, 25.4, 24.0, 22.2, 20.1, 17.8, 15.4, 13.0, 10.7, 8.6, 6.7, 5.1, 3.8, 2.7, 1.9, 1.3, 0.8],
    [3.9, 6.0, 8.5, 11.2, 13.9, 16.5, 18.9, 21.0, 22.8, 24.3, 25.5, 26.4, 27.1, 27.6, 27.9, 27.9, 27.5, 26.7, 25.5, 24.0, 22.2, 20.3, 18.3, 16.3, 14.3, 12.3, 10.3, 8.3, 6.4, 4.6, 3.1],
    [5.4, 8.3, 11.5, 14.6, 17.5, 20.1, 22.4, 24.4, 26.1, 27.5, 28.6, 29.4, 29.9, 30.1, 29.6, 28.2, 25.8, 22.6, 18.8, 14.8, 11.0, 7.8, 5.3, 3.5, 2.3, 1.5, 1.0, 0.6, 0.4, 0.2, 0.1],
    [2.9, 5.0, 7.6, 10.3, 12.9, 15.3, 17.5, 19.4, 21.0, 22.4, 23.6, 24.6, 25.4, 26.0, 26.4, 26.6, 26.5, 26.1, 25.4, 24.3, 22.9, 21.1, 19.0, 16.7, 14.3, 11.9, 9.6, 7.5, 5.6, 4.0, 2.7],
    [4.7, 7.0, 9.6, 12.2, 14.7, 17.0, 19.1, 21.0, 22.7, 24.1, 25.3, 26.2, 26.8, 27.1, 27.0, 26.5, 25.6, 24.3, 22.6, 20.6, 18.3, 15.8, 13.2, 10.7, 8.4, 6.3, 4.6, 3.2, 2.1, 1.3, 0.8],
    [3.5, 5.7, 8.2, 10.8, 13.3, 15.7, 17.9, 19.9, 21.6, 23.1, 24.3, 25.2, 25.9, 26.3, 26.4, 26.2, 25.7, 24.9, 23.8, 22.4, 20.7, 18.8, 16.7, 14.5, 12.2, 10.0, 7.9, 6.0, 4.4, 3.1, 2.1],
    [6.2, 9.2, 12.3, 15.2, 17.9, 20.3, 22.5, 24.4, 26.0, 27.4, 28.6, 29.6, 30.4, 31.0, 31.3, 31.2, 30.6, 29.4, 27.6, 25.2, 22.4, 19.3, 16.0, 12.8, 9.8, 7.2, 5.0, 3.3, 2.1, 1.3, 0.8],
    [3.8, 5.6, 7.6, 9.8, 12.0, 14.2, 16.3, 18.3, 20.1, 21.7, 23.1, 24.2, 25.0, 25.5, 25.6, 25.2, 24.3, 22.9, 21.0, 18.8, 16.4, 14.0, 11.7, 9.5, 7.5, 5.7, 4.2, 3.0, 2.0, 1.3, 0.8],
    [4.4, 7.0, 9.9, 12.7, 15.3, 17.6, 19.6, 21.2, 22.3, 22.8, 22.6, 21.8, 20.6, 19.3, 18.0, 16.8, 15.8, 14.9, 14.0, 13.0, 11.9, 10.6, 9.2, 7.8, 6.4, 5.0, 3.8, 2.7, 1.9, 1.2, 0.7],
    [5.0, 7.6, 10.2, 12.8, 15.2, 17.6, 19.8, 21.9, 23.8, 25.5, 27.0, 28.2, 29.2, 30.0, 30.6, 31.0, 31.1, 30.9, 30.2, 29.0, 27.2, 24.8, 21.8, 18.4, 14.8, 11.2, 8.0, 5.4, 3.4, 2.1, 1.2],
    [2.5, 4.2, 6.4, 8.8, 11.2, 13.5, 15.6, 17.5, 19.1, 20.4, 21.4, 22.0, 22.2, 22.0, 21.4, 20.6, 19.6, 18.6, 17.5, 16.3, 15.0, 13.6, 12.1, 10.6, 9.0, 7.4, 5.9, 4.5, 3.3, 2.3, 1.5],
    [6.5, 9.6, 12.6, 15.4, 18.0, 20.4, 22.5, 24.3, 25.7, 26.7, 27.2, 27.2, 26.7, 25.7, 24.2, 22.3, 20.2, 18.0, 15.8, 13.6, 11.6, 9.7, 8.0, 6.5, 5.1, 3.9, 2.9, 2.0, 1.3, 0.8, 0.4],
    [3.4, 5.3, 7.4, 9.5, 11.5, 13.4, 15.0, 16.4, 17.6, 18.8, 20.0, 21.3, 22.7, 24.0, 25.1, 25.9, 26.3, 26.2, 25.6, 24.6, 23.2, 21.5, 19.6, 17.5, 15.3, 13.0, 10.7, 8.5, 6.4, 4.6, 3.1],
    [4.6, 6.9, 9.3, 11.6, 13.7, 15.6, 17.2, 18.4, 19.1, 19.3, 18.9, 18.0, 16.8, 15.4, 14.0, 12.6, 11.4, 10.4, 9.6, 8.9, 8.2, 7.5, 6.7, 5.9, 5.0, 4.1, 3.2, 2.4, 1.7, 1.1, 0.7],
]

# ---- other winters: PSC fraction (%), (first day, values every 3 days) ----
gray_ratio = [
    (12, [0, 1.5, 4.0, 7.5, 6.0, 9.5, 12.8, 10.8, 15.0, 17.8, 15.9, 20.0, 22.6, 20.5, 24.8, 27.0, 25.1, 28.9, 30.5, 27.8, 31.6, 33.4, 30.2, 28.0, 31.0, 25.6, 21.4, 23.2, 18.0, 13.9, 15.6, 10.8, 6.6, 8.4, 4.5, 1.9, 0.6, 0]),
    (15, [0, 2.4, 5.6, 3.8, 8.1, 11.4, 14.0, 12.2, 16.6, 19.0, 21.4, 19.4, 23.2, 24.9, 28.1, 25.6, 29.0, 30.9, 33.6, 31.0, 34.6, 37.0, 38.0, 35.2, 36.8, 33.0, 29.1, 31.1, 26.2, 22.0, 17.9, 19.8, 14.3, 9.8, 5.9, 2.9, 1.0, 0]),
    (20, [0, 1.8, 0.9, 4.3, 7.4, 5.4, 9.6, 11.8, 9.8, 14.2, 16.0, 14.0, 18.1, 20.6, 18.4, 21.8, 24.2, 22.1, 19.2, 22.4, 25.0, 27.6, 30.4, 28.2, 31.2, 34.2, 32.0, 28.2, 23.8, 25.9, 21.4, 17.2, 12.9, 14.6, 10.0, 5.6, 7.7, 3.9, 1.4, 0]),
    (9, [0, 1.2, 3.4, 7.0, 4.8, 8.6, 12.0, 15.6, 12.8, 17.0, 19.8, 17.2, 22.4, 25.8, 22.8, 27.6, 24.2, 19.6, 22.6, 16.9, 12.6, 15.8, 10.7, 6.0, 3.2, 1.2, 0]),
    (27, [0, 2.8, 6.2, 9.8, 7.6, 12.3, 15.6, 13.2, 18.4, 21.6, 24.4, 22.0, 26.6, 29.2, 31.8, 29.2, 33.6, 36.6, 39.2, 36.6, 40.8, 44.4, 42.0, 37.6, 40.2, 35.0, 30.2, 32.8, 27.3, 22.8, 25.4, 19.6, 14.9, 17.1, 11.6, 7.5, 4.1, 1.5, 0]),
    (18, [0, 1.5, 4.6, 2.5, 7.0, 10.6, 8.2, 13.6, 16.8, 14.0, 18.5, 21.4, 18.8, 15.4, 20.2, 24.0, 21.2, 26.2, 28.4, 25.2, 21.0, 24.6, 19.2, 22.6, 16.9, 13.4, 16.6, 11.5, 7.9, 10.3, 5.4, 2.5, 0.8, 0]),
    (30, [0, 1.8, 4.8, 3.0, 6.6, 10.0, 7.8, 12.2, 14.8, 12.8, 17.2, 20.2, 18.0, 21.8, 24.6, 22.4, 26.2, 28.2, 25.4, 29.0, 31.4, 28.4, 32.4, 29.8, 26.6, 29.2, 24.4, 20.2, 22.8, 18.4, 14.0, 16.2, 12.2, 8.5, 10.8, 6.6, 3.3, 1.1, 0]),
    (24, [0, 4.0, 7.6, 5.4, 10.0, 12.8, 15.8, 13.2, 17.2, 19.8, 22.2, 19.8, 23.4, 25.4, 27.4, 25.4, 28.8, 30.8, 28.4, 32.2, 34.4, 32.2, 29.6, 32.0, 27.6, 23.6, 25.8, 21.6, 17.3, 13.2, 15.1, 10.5, 6.0, 2.9, 1.1, 0]),
    (36, [0, 2.2, 5.3, 8.4, 6.3, 10.0, 12.4, 10.6, 14.2, 16.4, 14.6, 18.2, 20.6, 18.4, 21.6, 23.6, 21.6, 18.2, 20.5, 17.0, 20.0, 22.6, 21.0, 24.4, 22.2, 19.0, 21.4, 17.0, 13.1, 15.3, 11.0, 7.8, 9.8, 5.8, 2.9, 1.1, 0]),
    (12, [0, 1.8, 4.2, 2.4, 6.0, 8.6, 6.4, 9.4, 11.4, 9.6, 12.4, 14.2, 12.2, 9.2, 12.0, 9.4, 6.8, 9.0, 6.0, 8.6, 11.0, 9.2, 12.4, 14.8, 12.8, 16.2, 18.6, 16.2, 13.0, 15.4, 11.2, 7.8, 10.2, 6.3, 3.2, 4.8, 2.0, 0]),
    (45, [0, 2.2, 5.2, 3.8, 7.4, 9.8, 8.2, 11.6, 14.4, 12.4, 16.2, 19.0, 17.0, 20.8, 23.6, 21.8, 25.6, 28.0, 26.4, 23.4, 26.4, 22.6, 25.6, 21.2, 17.4, 20.2, 15.8, 11.6, 14.0, 9.6, 5.8, 2.5, 0.9, 0]),
    (21, [0, 2.6, 5.4, 8.6, 6.2, 10.2, 13.4, 11.0, 15.0, 17.8, 15.6, 19.4, 22.0, 19.8, 23.8, 26.2, 23.8, 27.8, 30.6, 28.6, 25.0, 27.6, 23.6, 19.6, 22.0, 17.0, 13.0, 15.4, 10.8, 6.8, 3.6, 1.6, 0]),
    (33, [0, 3.0, 6.2, 4.2, 8.4, 11.2, 9.0, 13.0, 15.8, 13.6, 17.4, 20.2, 17.8, 21.4, 24.2, 22.2, 26.0, 22.8, 19.4, 22.0, 17.6, 14.8, 17.8, 13.4, 10.0, 12.8, 8.4, 5.0, 7.0, 3.4, 1.2, 0]),
    (15, [0, 2.0, 4.8, 7.6, 5.6, 9.2, 12.2, 10.2, 14.2, 16.8, 14.8, 18.6, 16.4, 19.8, 22.4, 20.4, 23.6, 26.0, 23.8, 27.6, 30.2, 28.0, 31.8, 34.2, 31.6, 28.2, 30.4, 26.0, 22.0, 24.2, 19.2, 15.2, 17.6, 12.8, 8.8, 11.2, 6.8, 3.2, 1.1, 0]),
    (48, [0, 1.8, 4.6, 7.6, 5.6, 10.0, 12.6, 10.8, 14.8, 12.6, 16.2, 18.6, 16.6, 20.2, 17.8, 21.2, 19.0, 15.8, 18.4, 14.4, 17.6, 15.0, 11.8, 14.2, 10.4, 13.2, 9.2, 6.2, 8.2, 4.8, 2.0, 3.6, 1.2, 0]),
    (27, [0, 1.4, 3.6, 6.2, 4.4, 8.2, 11.0, 9.0, 13.0, 15.6, 13.6, 17.6, 20.4, 18.2, 22.2, 24.8, 22.6, 26.4, 28.8, 26.6, 30.8, 33.4, 31.4, 35.2, 37.8, 35.6, 31.8, 34.4, 29.4, 25.0, 27.4, 22.4, 17.6, 13.2, 15.8, 11.2, 6.8, 3.4, 1.2, 0]),
    (39, [0, 1.8, 4.2, 2.8, 6.0, 8.6, 7.0, 10.4, 8.8, 12.0, 14.2, 12.4, 15.8, 13.8, 11.0, 13.4, 10.8, 13.8, 16.4, 14.4, 18.2, 21.0, 19.0, 22.4, 20.2, 16.6, 18.8, 14.8, 11.0, 13.2, 9.4, 6.0, 8.0, 4.6, 2.2, 0.8, 0]),
    (18, [0, 2.8, 6.0, 9.4, 7.4, 12.0, 15.8, 13.4, 18.4, 21.8, 19.4, 23.6, 27.2, 24.6, 28.8, 31.6, 29.2, 33.0, 30.4, 26.2, 28.6, 23.8, 19.4, 22.0, 17.0, 12.8, 15.2, 10.6, 6.8, 8.6, 4.6, 2.2, 0.8, 0]),
    (15, [0, 1.2, 3.6, 6.8, 10.5, 8.0, 14.0, 23.0, 35.0, 25.0, 20.5, 16.0, 18.5, 14.0, 11.0, 13.5, 9.0, 6.0, 8.0, 4.5, 2.0, 0.5, 0]),
    (9, [0, 0.8, 2.0, 3.8, 2.6, 5.2, 8.0, 6.4, 10.4, 13.6, 11.6, 15.8, 19.4, 17.0, 21.6, 25.2, 22.8, 28.0, 32.4, 29.6, 35.0, 48.0, 41.0, 36.2, 38.8, 32.6, 27.4, 30.0, 23.6, 18.4, 21.0, 14.8, 9.6, 11.8, 6.4, 2.8, 0.9, 0]),
    (24, [0, 2.0, 5.0, 3.2, 7.0, 10.2, 8.0, 12.6, 10.0, 14.6, 17.6, 15.2, 20.2, 17.8, 22.6, 25.6, 23.0, 27.8, 24.6, 20.6, 23.6, 27.0, 24.0, 19.8, 22.4, 17.6, 14.0, 16.6, 11.6, 7.8, 10.0, 5.8, 2.8, 0.8, 0]),
    (30, [0, 2.2, 5.4, 8.6, 6.6, 11.0, 14.2, 11.8, 16.2, 13.6, 18.4, 21.4, 18.8, 23.4, 26.6, 24.0, 29.0, 31.8, 28.8, 33.6, 36.2, 33.4, 38.2, 35.4, 32.6, 37.4, 34.6, 29.8, 32.4, 26.6, 21.8, 24.2, 18.0, 13.2, 8.8, 4.8, 2.0, 0.6, 0]),
    (15, [0, 1.6, 3.8, 6.4, 4.2, 7.6, 10.4, 7.8, 11.8, 14.6, 11.8, 15.4, 12.0, 9.0, 12.2, 9.2, 6.2, 8.2, 5.0, 2.4, 4.0, 1.6, 0]),
    (42, [0, 1.6, 4.4, 3.2, 7.0, 10.2, 8.0, 12.6, 15.4, 13.2, 17.6, 20.8, 18.2, 22.8, 25.8, 23.4, 27.8, 30.2, 27.8, 31.6, 28.6, 25.0, 27.2, 23.0, 19.0, 21.0, 16.6, 12.6, 14.6, 10.0, 6.4, 8.0, 4.4, 2.0, 0.7, 0]),
    (12, [0, 3.0, 6.2, 3.8, 7.8, 11.0, 8.6, 13.0, 15.8, 12.8, 16.8, 19.6, 16.8, 20.8, 23.4, 21.0, 25.0, 27.6, 25.0, 29.2, 31.8, 29.2, 25.4, 27.8, 23.4, 19.0, 21.4, 16.6, 12.6, 14.6, 10.2, 6.4, 8.0, 4.2, 1.8, 0.7, 0]),
    (21, [0, 1.6, 4.6, 7.8, 5.8, 9.8, 12.8, 10.6, 14.8, 17.6, 15.0, 19.0, 22.0, 19.4, 23.2, 25.8, 23.6, 27.6, 30.4, 27.6, 31.8, 34.8, 32.0, 35.8, 32.8, 29.0, 31.2, 26.4, 22.2, 24.2, 19.4, 14.6, 10.4, 12.4, 7.8, 4.4, 1.7, 0.6, 0]),
    (36, [0, 1.4, 3.6, 2.2, 5.0, 7.8, 5.8, 9.0, 11.4, 9.4, 12.6, 10.4, 13.6, 15.6, 13.4, 16.6, 14.0, 11.2, 13.6, 10.4, 13.0, 9.8, 6.8, 8.6, 5.4, 2.8, 4.2, 1.8, 0.6, 0]),
    (27, [0, 3.4, 7.6, 5.4, 10.4, 14.0, 11.4, 16.4, 19.6, 16.8, 21.6, 25.2, 22.6, 27.0, 30.2, 27.6, 32.0, 35.0, 32.2, 27.8, 30.2, 25.0, 27.6, 22.6, 18.2, 20.4, 15.6, 11.6, 13.8, 9.4, 5.6, 7.4, 3.8, 1.4, 0]),
    (18, [0, 2.4, 5.2, 3.4, 7.0, 9.8, 7.8, 11.4, 14.0, 11.6, 14.8, 17.6, 14.8, 18.2, 20.8, 18.0, 21.8, 24.4, 21.8, 25.4, 28.2, 25.2, 29.6, 31.8, 28.8, 32.8, 29.6, 25.2, 27.6, 22.6, 18.2, 20.4, 15.4, 11.0, 12.8, 8.0, 4.4, 5.8, 2.6, 0.8, 0]),
    (51, [0, 2.0, 4.8, 3.2, 6.8, 9.8, 7.8, 12.0, 15.0, 12.8, 17.2, 14.6, 19.0, 16.0, 20.4, 17.6, 14.0, 16.8, 13.0, 16.0, 12.2, 8.8, 11.0, 7.2, 4.2, 6.0, 3.0, 1.2, 0]),
]

gray = "#a8a8a8"

fig = plt.figure(figsize=(8.19, 13.35), dpi=100)
left, width, height = 0.1441, 0.8327, 0.3060
ax_a = fig.add_axes([left, 0.6775, width, height])
ax_b = fig.add_axes([left, 0.3715, width, height])
ax_c = fig.add_axes([left, 0.0659, width, height])

# gray background winters
for start, vals in gray_psc:
    x = np.concatenate([[0], start + 3 * np.arange(len(vals)), [181]])
    y = np.concatenate([[0], vals, [0]])
    ax_a.plot(x, y, color=gray, lw=0.8, zorder=1.5)
for vals in gray_vortex:
    ax_b.plot(6 * np.arange(len(vals)), vals, color=gray, lw=0.8, zorder=1.5)
for start, vals in gray_ratio:
    x = np.concatenate([[0], start + 3 * np.arange(len(vals)), [181]])
    y = np.concatenate([[0], vals, [0]])
    ax_c.plot(x, y, color=gray, lw=0.8, zorder=1.5)

# highlighted winters
panel_series = [
    (ax_a, [psc_2010, psc_2015, psc_2019]),
    (ax_b, [vortex_2010, vortex_2015, vortex_2019]),
    (ax_c, [ratio_2010, ratio_2015, ratio_2019]),
]
for ax, series in panel_series:
    for pts, col in zip(series, colors):
        d, v = zip(*pts)
        ax.plot(d, v, color=col, lw=2.3, zorder=3, clip_on=False, solid_capstyle="butt")

# axes styling
yspecs = [
    (ax_a, 15, [0, 5, 10, 15], ["", "5", "10", "15"], np.arange(0, 16, 1),
     r"V$_{\mathrm{PSC}}$ [ 10$^{7}$ km$^{3}$ ]", "a"),
    (ax_b, 40, [0, 10, 20, 30, 40], ["", "10", "20", "30", "40"], np.arange(0, 41, 2),
     r"V$_{\mathrm{Vortex}}$ [ 10$^{7}$ km$^{3}$ ]", "b"),
    (ax_c, 50, [0, 10, 20, 30, 40, 50], ["0", "10", "20", "30", "40", "50"], np.arange(0, 51, 2),
     r"V$_{\mathrm{PSC}}$ / V$_{\mathrm{Vortex}}$ [ % ]", "c"),
]
for ax, ymax, majors, labels, minors, ylabel, tag in yspecs:
    ax.set_xlim(0, 181)
    ax.set_ylim(0, ymax)
    ax.set_yticks(majors)
    ax.set_yticklabels(labels, fontsize=17, fontweight="bold")
    ax.set_yticks(minors, minor=True)
    ax.tick_params(axis="y", which="both", left=True, right=True, direction="out", width=1.3, pad=4)
    ax.tick_params(axis="y", which="major", length=10.5)
    ax.tick_params(axis="y", which="minor", length=6)
    ax.set_xticks(tick_days)
    ax.set_xticks(month_starts, minor=True)
    ax.tick_params(axis="x", which="both", top=True, bottom=False, labelbottom=False,
                   direction="out", length=10, width=1.3)
    for s in ax.spines.values():
        s.set_linewidth(1.5)
    ax.set_ylabel(ylabel, fontsize=25)
    ax.yaxis.set_label_coords(-0.10, 0.5)
    ax.text(0.971, 0.945, tag, transform=ax.transAxes, fontsize=20, ha="center", va="center")
    handles = [Line2D([], [], color=c, lw=2.3) for c in colors]
    ax.legend(handles, seasons, loc="upper left", bbox_to_anchor=(0.025, 0.967), frameon=False,
              fontsize=15, handlelength=1.78, handletextpad=0.38, labelspacing=0.22,
              borderpad=0, borderaxespad=0)

# bottom axis labels
ax_c.tick_params(axis="x", which="both", bottom=True, labelbottom=True, pad=7)
ax_c.set_xticklabels(tick_labels, fontsize=16)
trans = mtransforms.blended_transform_factory(ax_c.transData, ax_c.transAxes)
for m, name in zip(month_mid, months):
    ax_c.text(m, -66 / 408.5, name, transform=trans, fontsize=25, ha="center", va="center")

fig.savefig("out.png", dpi=100)
